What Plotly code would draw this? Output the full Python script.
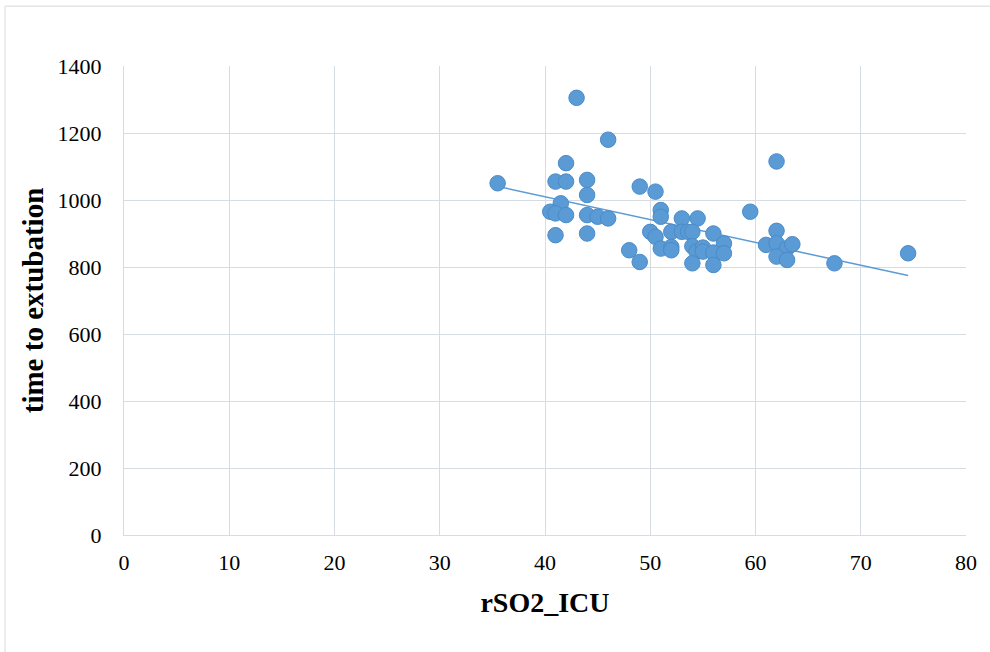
import numpy as np
import plotly.graph_objects as go

rso2_icu = [35.5, 43, 46, 42, 41, 42, 44, 44, 49, 50.5,
            41.5, 40.5, 41, 42, 44, 45, 46, 41, 44, 48,
            49, 51, 51, 53, 54.5, 50, 50.5, 52, 53, 53.6,
            54, 56, 57, 51, 52, 52, 54, 54.4, 55, 55,
            56, 57, 54, 56, 59.5, 62, 62, 61, 62, 63,
            63.5, 62, 63, 67.5, 74.5]
time_to_extubation = [1050, 1305, 1180, 1110, 1055, 1055, 1060, 1015, 1040, 1025,
                      990, 965, 960, 955, 955, 950, 945, 895, 900, 850,
                      815, 970, 950, 945, 945, 905, 890, 905, 905, 905,
                      905, 900, 870, 855, 860, 850, 862, 846, 858, 846,
                      843, 841, 811, 806, 965, 1115, 908, 866, 871, 856,
                      868, 831, 821, 811, 841]

x_ticks = [0, 10, 20, 30, 40, 50, 60, 70, 80]
y_ticks = [0, 200, 400, 600, 800, 1000, 1200, 1400]

xa = np.array(rso2_icu)
ya = np.array(time_to_extubation)
slope, intercept = np.polyfit(xa, ya, 1)
tx = np.array([xa.min(), xa.max()])
ty = slope * tx + intercept

blue = "#5B9BD5"
grid = "#D6DCE4"
font_family = "Liberation Serif, Times New Roman, serif"

fig = go.Figure()
fig.add_trace(go.Scatter(x=tx, y=ty, mode="lines",
                         line=dict(color=blue, width=1.5),
                         showlegend=False, hoverinfo="skip"))
fig.add_trace(go.Scatter(x=rso2_icu, y=time_to_extubation, mode="markers",
                         marker=dict(size=15.5, color=blue,
                                     line=dict(color="#4A8BC8", width=1)),
                         showlegend=False))

fig.update_layout(
    width=990, height=652,
    margin=dict(l=124, r=24, t=66, b=117),
    paper_bgcolor="white", plot_bgcolor="white",
    font=dict(family=font_family, size=22, color="black"),
    shapes=[dict(type="rect", xref="paper", yref="paper",
                 x0=-0.1413, x1=1.2, y0=-0.4, y1=1.1276,
                 line=dict(color="#D9D9D9", width=1), layer="below")],
)
fig.update_xaxes(
    range=[0, 80], tickvals=x_ticks, ticktext=[str(v) for v in x_ticks],
    showgrid=True, gridcolor=grid, gridwidth=1,
    zeroline=False, showline=True, linecolor=grid, linewidth=1,
    ticks="outside", ticklen=8, tickcolor="rgba(0,0,0,0)",
    tickfont=dict(size=22, family=font_family),
    title=dict(text="<b>rSO2_ICU</b>", font=dict(size=28, family=font_family), standoff=17),
)
fig.update_yaxes(
    range=[0, 1400], tickvals=y_ticks, ticktext=[str(v) for v in y_ticks],
    showgrid=True, gridcolor=grid, gridwidth=1,
    zeroline=False, showline=True, linecolor=grid, linewidth=1,
    ticks="outside", ticklen=17, tickcolor="rgba(0,0,0,0)",
    tickfont=dict(size=22, family=font_family),
    title=dict(text="<b>time to extubation</b>", font=dict(size=29, family=font_family), standoff=5),
)

fig.write_html("out.html", config={"displayModeBar": False},
               post_script="document.body.style.margin='0';document.body.style.padding='0';")
